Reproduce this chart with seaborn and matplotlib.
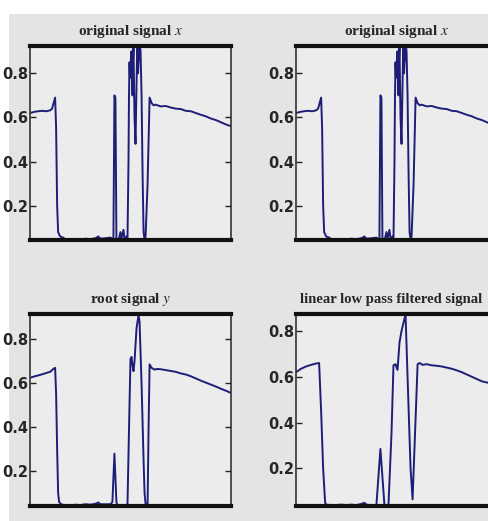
import numpy as np
import pandas as pd
import matplotlib
matplotlib.use("Agg")
import matplotlib.pyplot as plt
import seaborn as sns
from matplotlib.patches import Rectangle

# values (sample index, amplitude)
orig_t = [0, 4, 8, 12, 16, 20, 22, 25, 26, 27, 28, 30, 33, 36, 40, 45, 50, 55, 60,
          65, 68, 70, 75, 80, 83, 84, 85, 86, 88, 90, 91, 93, 94, 96, 97, 98, 98.5,
          99, 99.5, 100, 100.5, 101, 101.5, 102, 102.5, 103, 103.5, 104, 105, 106,
          106.5, 107, 107.5, 108, 108.5, 109, 109.5, 110, 111, 112, 113, 114, 115,
          117, 119, 121, 123, 125, 130, 135, 140, 145, 150, 155, 160, 165, 170,
          175, 180, 185, 190, 195, 200]
orig_v = [0.620, 0.625, 0.628, 0.630, 0.628, 0.632, 0.640, 0.690, 0.55, 0.20, 0.08,
          0.060, 0.055, 0.045, 0.040, 0.048, 0.045, 0.050, 0.048, 0.052, 0.060,
          0.050, 0.052, 0.055, 0.045, 0.700, 0.690, 0.050, 0.040, 0.080, 0.050,
          0.090, 0.050, 0.060, 0.045, 0.400, 0.700, 0.850, 0.780, 0.800, 0.880,
          0.900, 0.780, 0.700, 0.860, 0.920, 0.750, 0.600, 0.480, 0.750, 0.880,
          0.920, 0.800, 0.850, 0.920, 0.860, 0.920, 0.900, 0.700, 0.350, 0.080,
          0.045, 0.060, 0.300, 0.690, 0.665, 0.655, 0.658, 0.650, 0.652, 0.645,
          0.640, 0.638, 0.630, 0.628, 0.620, 0.612, 0.605, 0.595, 0.588, 0.578,
          0.568, 0.560]

root_t = [0, 5, 10, 15, 20, 24, 25, 26, 27, 28, 29, 31, 35, 40, 45, 50, 55, 60, 65,
          68, 70, 75, 80, 82, 84, 86, 87, 90, 95, 97, 99, 100, 101, 102, 103, 104,
          106, 108, 109, 111, 113, 114, 115, 117, 118, 119, 121, 124, 126, 130,
          135, 140, 145, 150, 155, 160, 165, 170, 175, 180, 185, 190, 195, 200]
root_v = [0.625, 0.632, 0.638, 0.645, 0.652, 0.668, 0.670, 0.55, 0.30, 0.10, 0.06,
          0.050, 0.045, 0.045, 0.048, 0.046, 0.050, 0.048, 0.052, 0.058, 0.050,
          0.050, 0.050, 0.060, 0.280, 0.060, 0.045, 0.045, 0.045, 0.050, 0.500,
          0.710, 0.720, 0.680, 0.655, 0.700, 0.850, 0.910, 0.880, 0.600, 0.250,
          0.100, 0.050, 0.050, 0.400, 0.686, 0.670, 0.662, 0.665, 0.664, 0.660,
          0.656, 0.652, 0.645, 0.640, 0.632, 0.622, 0.612, 0.603, 0.594, 0.585,
          0.575, 0.566, 0.556]

lp_t = [0, 5, 10, 15, 20, 23, 25, 27, 29, 30, 35, 40, 45, 50, 55, 60, 65, 68, 70,
        75, 80, 84, 88, 92, 95, 97, 99, 101, 103, 105, 109, 111, 114, 116, 118,
        121, 123, 126, 130, 135, 140, 145, 150, 155, 160, 165, 170, 175, 180, 185,
        190, 195, 200]
lp_v = [0.620, 0.635, 0.645, 0.652, 0.658, 0.660, 0.450, 0.200, 0.050, 0.042,
        0.040, 0.040, 0.042, 0.040, 0.042, 0.040, 0.045, 0.050, 0.042, 0.040,
        0.040, 0.285, 0.040, 0.040, 0.350, 0.650, 0.655, 0.630, 0.750, 0.800,
        0.873, 0.600, 0.200, 0.065, 0.300, 0.655, 0.660, 0.652, 0.655, 0.650,
        0.648, 0.645, 0.640, 0.635, 0.628, 0.620, 0.610, 0.600, 0.590, 0.580,
        0.575, 0.570, 0.565]

titles = ["original signal $x$", "original signal $x$",
          "root signal $y$", "linear low pass filtered signal"]
yticks = [0.2, 0.4, 0.6, 0.8]

sns.set_theme(style="white")
plt.rcParams["mathtext.fontset"] = "stix"

fig = plt.figure(figsize=(4.88, 5.21), dpi=100, facecolor="white")
# grey figure area (the capture has a white strip on top and left)
fig.patches.append(Rectangle((9 / 488, 0), 1, 1 - 14 / 521, transform=fig.transFigure,
                             facecolor="#e4e4e4", edgecolor="none", zorder=-5))

W, H = 488, 521
boxes = [(30, 46, 201, 194), (296, 46, 201, 194),
         (30, 314, 201, 192), (296, 314, 201, 192)]
series = [(orig_t, orig_v), (orig_t, orig_v), (root_t, root_v), (lp_t, lp_v)]
ylims = [(0.044, 0.924), (0.044, 0.924), (0.042, 0.915), (0.036, 0.874)]

for i, ((x0, y0, w, h), (t, v), title, ylim) in enumerate(zip(boxes, series, titles, ylims)):
    ax = fig.add_axes([x0 / W, 1 - (y0 + h) / H, w / W, h / H])
    ax.set_facecolor("#ececec")
    df = pd.DataFrame({"t": t, "v": v})
    sns.lineplot(data=df, x="t", y="v", ax=ax, color="#1e1e78", linewidth=1.4,
                 estimator=None, sort=False)
    ax.set_xlim(0, 200)
    ax.set_ylim(*ylim)
    ax.set_xlabel("")
    ax.set_ylabel("")
    ax.set_xticks([])
    ax.set_yticks(yticks)
    ax.set_yticklabels([f"{y:.1f}" for y in yticks], fontweight="bold", fontsize=10.5)
    ax.tick_params(axis="y", direction="in", left=True, right=True, length=4,
                   width=1, color="#222222", pad=1)
    for s in ["top", "bottom"]:
        ax.spines[s].set_linewidth(3)
        ax.spines[s].set_color("#111111")
    for s in ["left", "right"]:
        ax.spines[s].set_linewidth(1.2)
        ax.spines[s].set_color("#333333")
    if i == 3:
        # the right column runs past the picture edge, keep the long title inside
        ax.set_title(title, family="Liberation Serif", fontweight="bold",
                     fontsize=10.5, pad=8, x=0.475)
    else:
        ax.set_title(title, family="Liberation Serif", fontweight="bold",
                     fontsize=11, pad=8)

fig.savefig("out.png", dpi=100)
